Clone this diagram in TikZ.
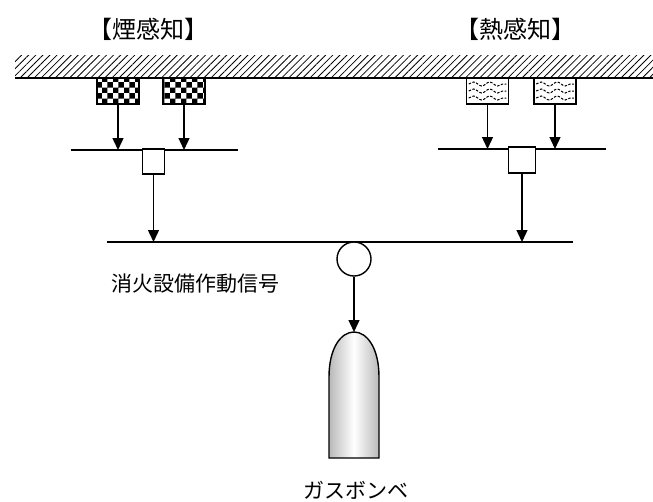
\documentclass[tikz,border=0pt]{standalone}
\usepackage{fontspec}
\newfontfamily\jpfont{Noto Sans CJK JP}
\usetikzlibrary{arrows.meta, patterns, patterns.meta, decorations.pathmorphing}

\tikzset{
	sensor/.style={draw, line width=1.6pt, minimum width=42pt, minimum height=26pt, inner sep=0pt},
	junction/.style={draw, fill=white, line width=1.4pt, inner sep=0pt},
	wave/.style={line width=1pt, dash pattern=on 2.5pt off 1.5pt, decorate,
		decoration={snake, amplitude=2pt, segment length=16pt}},
	headtext/.style={font=\jpfont\fontsize{24}{24}\selectfont},
	sigtext/.style={font=\jpfont\fontsize{21}{21}\selectfont},
}

\begin{document}
\begin{tikzpicture}[x=1pt, y=-1pt, >={Triangle[length=12pt, width=11pt]},
			line width=1.4pt]
		\useasboundingbox (0,0) rectangle (653,501);

		\fill[pattern={Lines[angle=45, distance=5pt, line width=0.8pt]}] (15,55) rectangle (653,78);
		\draw (15,78) -- (653,78);

		\node[headtext] (smoketitle) at (148,29) {【煙感知】};
		\node[headtext] (heattitle) at (515,29) {【熱感知】};

		\node[sensor, pattern=checkerboard] (smokeA) at (118,91) {};
		\node[sensor, pattern=checkerboard] (smokeB) at (184,91) {};
		\node[sensor] (heatA) at (487.5,91) {};
		\node[sensor] (heatB) at (555,91) {};
		\foreach \s in {heatA, heatB}
			\foreach \dy in {-7, 0, 7}
				\draw[wave] ([xshift=3pt, yshift=\dy pt]\s.west) -- ([xshift=-3pt, yshift=\dy pt]\s.east);

		\coordinate (smokeL) at (71,150);
		\coordinate (smokeR) at (238,150);
		\coordinate (heatL) at (438,149);
		\coordinate (heatR) at (606,149);
		\coordinate (mainL) at (107,242);
		\coordinate (mainR) at (573,242);
		\coordinate (bottletop) at (354,332);

		\draw (smokeL) -- (smokeR);
		\draw (heatL) -- (heatR);
		\draw[line width=1.6pt] (mainL) -- (mainR);

		\draw[->] (smokeA) -- (smokeA |- smokeL);
		\draw[->] (smokeB) -- (smokeB |- smokeL);
		\draw[->] (heatA) -- (heatA |- heatL);
		\draw[->] (heatB) -- (heatB |- heatL);

		\node[junction, minimum width=22pt, minimum height=25pt] (smokebox) at (153.5,161.5) {};
		\node[junction, minimum width=27pt, minimum height=26pt] (heatbox) at (522,160) {};
		\node[junction, circle, minimum size=34pt] (valve) at (354,259) {};

		\draw[->] (smokebox) -- (smokebox |- mainL);
		\draw[->] (heatbox) -- (heatbox |- mainL);
		\draw[->] (valve) -- (bottletop);

		\draw[left color=gray!55, right color=gray!55, middle color=white]
			(329,458) -- (329,377) .. controls (329,348) and (341,332) .. (bottletop)
			.. controls (367,332) and (379,348) .. (379,377) -- (379,458) -- cycle;

		\node[sigtext] (signal) at (195,284) {消火設備作動信号};
		\node[sigtext] (gas) at (356,490) {ガスボンベ};
	\end{tikzpicture}
\end{document}
